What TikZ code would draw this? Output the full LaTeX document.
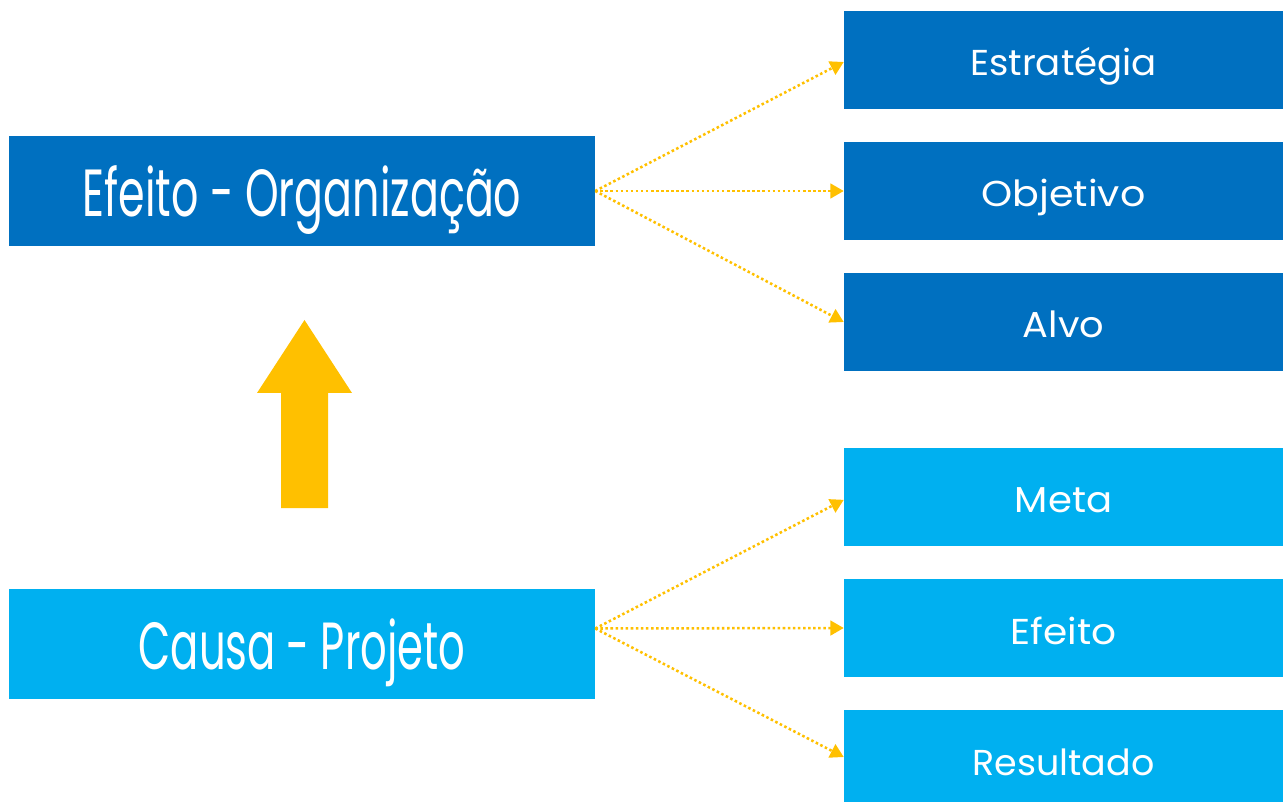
\documentclass[tikz,border=0pt]{standalone}
\usepackage{fontspec}
\setmainfont{Poppins}
\usetikzlibrary{arrows.meta}
\definecolor{darkb}{HTML}{0070C0}
\definecolor{lightb}{HTML}{00B0F0}
\definecolor{yel}{HTML}{FFC000}
\newcommand{\hfit}[2]{\resizebox{#1}{\height}{#2}}
\tikzset{
  bigbox/.style={rectangle, inner sep=0pt, minimum width=439.5pt, minimum height=82.5pt, text=white, font=\fontsize{50}{54}\selectfont, text height=43pt, text depth=4.75pt},
  smallbox/.style={rectangle, inner sep=0pt, minimum width=329.25pt, minimum height=73.5pt, text=white, font=\fontsize{27}{30}\selectfont, text height=30pt, text depth=6pt},
  conn/.style={draw=yel, line width=1.9pt, dash pattern=on 1.9pt off 1.9pt, -{Triangle[length=10pt,width=11pt]}, shorten <=0pt},
}
\begin{document}
\begin{tikzpicture}[x=0.75pt,y=-0.75pt]
\useasboundingbox (0,0) rectangle (1286,802);
% left boxes
\node[bigbox, fill=darkb] (eo) at (302,191) {\hfit{329pt}{Efeito - Organização}};
\node[bigbox, fill=lightb] (cp) at (302,643.5) {\hfit{245pt}{Causa - Projeto}};
% right boxes
\node[smallbox, fill=darkb] (est) at (1063.5,60) {\hfit{140pt}{Estratégia}};
\node[smallbox, fill=darkb] (obj) at (1063.5,191) {\hfit{123pt}{Objetivo}};
\node[smallbox, fill=darkb] (alv) at (1063.5,322) {\hfit{61pt}{Alvo}};
\node[smallbox, fill=lightb] (met) at (1063.5,496.5) {\hfit{73pt}{Meta}};
\node[smallbox, fill=lightb] (efe) at (1063.5,628) {\hfit{79.5pt}{Efeito}};
\node[smallbox, fill=lightb] (res) at (1063.5,759) {\hfit{136.5pt}{Resultado}};
% connector anchors
\coordinate (eoS) at (eo.east);
\coordinate (cpS) at ([yshift=11.25pt]cp.east);
\draw[conn] (eoS) -- ([yshift=-1.5pt]est.west);
\draw[conn] (eoS) -- (obj.west);
\draw[conn] (eoS) -- (alv.west);
\draw[conn] (cpS) -- ([yshift=-2.5pt]met.west);
\draw[conn] (cpS) -- (efe.west);
\draw[conn] (cpS) -- ([yshift=1.5pt]res.west);
% big up arrow
\fill[yel] (281,508) -- (281,393) -- (257,393) -- (304.5,320) -- (352,393) -- (328,393) -- (328,508) -- cycle;
\end{tikzpicture}
\end{document}
